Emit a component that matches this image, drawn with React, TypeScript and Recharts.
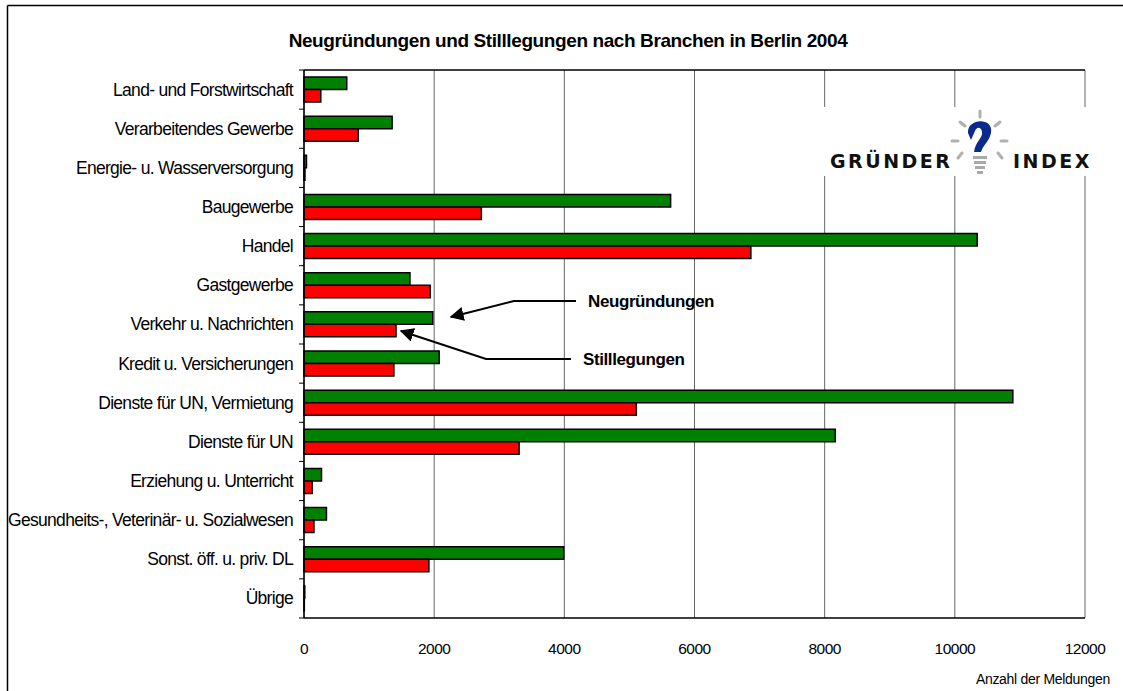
import React from "react";
import {
  BarChart,
  Bar,
  XAxis,
  YAxis,
  CartesianGrid,
} from "recharts";

const branchen = [
  "Land- und Forstwirtschaft",
  "Verarbeitendes Gewerbe",
  "Energie- u. Wasserversorgung",
  "Baugewerbe",
  "Handel",
  "Gastgewerbe",
  "Verkehr u. Nachrichten",
  "Kredit u. Versicherungen",
  "Dienste für UN, Vermietung",
  "Dienste für UN",
  "Erziehung u. Unterricht",
  "Gesundheits-, Veterinär- u. Sozialwesen",
  "Sonst. öff. u. priv. DL",
  "Übrige",
];

const neugruendungen = [
  657, 1354, 38, 5633, 10344, 1628, 1979, 2077, 10891, 8163, 269, 345, 3990, 12,
];

const stilllegungen = [
  258, 833, 15, 2725, 6866, 1940, 1414, 1381, 5106, 3305, 126, 153, 1919, 5,
];

const xTicks = [0, 2000, 4000, 6000, 8000, 10000, 12000];

const data = branchen.map((name, i) => ({
  name,
  neu: neugruendungen[i],
  still: stilllegungen[i],
}));

const FONT = "'Liberation Sans', Arial, sans-serif";
const PLOT_TOP = 70;
const PLOT_BOTTOM = 618;
const BAND = (PLOT_BOTTOM - PLOT_TOP) / branchen.length;

const CategoryTick = (props: any) => {
  const { x, y, payload, index } = props;
  return (
    <g>
      <text
        x={x - 11}
        y={y}
        textAnchor="end"
        dominantBaseline="central"
        fontSize={17.5}
        fontFamily={FONT}
        fill="#000"
        letterSpacing={-0.7}
      >
        {payload.value}
      </text>
      <line x1={x - 5} x2={x} y1={y - BAND / 2} y2={y - BAND / 2} stroke="#000" />
      {index === branchen.length - 1 && (
        <line x1={x - 5} x2={x} y1={y + BAND / 2} y2={y + BAND / 2} stroke="#000" />
      )}
    </g>
  );
};

const Logo = () => (
  <g>
    <rect x={824} y={107} width={272} height={69} fill="#fff" />
    <text
      x={830}
      y={168}
      fontSize={19}
      fontWeight="bold"
      fontFamily="'DejaVu Sans', sans-serif"
      letterSpacing={2.5}
      fill="#111"
    >
      GRÜNDER
    </text>
    <text
      x={1013}
      y={168}
      fontSize={19}
      fontWeight="bold"
      fontFamily="'DejaVu Sans', sans-serif"
      letterSpacing={2.5}
      fill="#111"
    >
      INDEX
    </text>
    {/* rays */}
    <g stroke="#b0b0b0" strokeWidth={3} strokeLinecap="round">
      <line x1={980} y1={111} x2={980} y2={117} />
      <line x1={960} y1={122} x2={965} y2={126} />
      <line x1={1000} y1={122} x2={995} y2={126} />
      <line x1={952} y1={141} x2={958} y2={141} />
      <line x1={1007} y1={141} x2={1001} y2={141} />
      <line x1={958} y1={158} x2={962} y2={153} />
      <line x1={1002} y1={158} x2={998} y2={153} />
    </g>
    {/* question mark */}
    <path
      d="M968 133 C967 118 994 117 991 133 C989 142 983 145 981 152 L974 152 C975 142 983 138 982 132 C981 126 976 127 975 131 L971 140 Z"
      fill="#0a2a8c"
    />
    {/* base */}
    <g fill="#aaa">
      <rect x={973} y={156} width={14} height={3} />
      <rect x={974} y={161} width={12} height={3} />
      <rect x={975} y={166} width={10} height={3} />
      <rect x={977} y={171} width={6} height={3} />
    </g>
  </g>
);

const Overlay = () => (
  <svg
    width={1123}
    height={691}
    style={{ position: "absolute", left: 0, top: 0, pointerEvents: "none" }}
  >
    <defs>
      <marker
        id="arrow"
        viewBox="0 0 10 10"
        refX={9}
        refY={5}
        markerWidth={7}
        markerHeight={7}
        orient="auto"
      >
        <path d="M0 0 L10 5 L0 10 z" fill="#000" />
      </marker>
    </defs>
    <line x1={7.5} y1={5.5} x2={1123} y2={5.5} stroke="#000" strokeWidth={1.5} />
    <line x1={7.5} y1={5.5} x2={7.5} y2={691} stroke="#000" strokeWidth={1.5} />
    <text
      x={568}
      y={47}
      textAnchor="middle"
      fontSize={19}
      fontWeight="bold"
      fontFamily={FONT}
      letterSpacing={-0.4}
      fill="#000"
    >
      Neugründungen und Stilllegungen nach Branchen in Berlin 2004
    </text>
    <Logo />
    <polyline
      points="576,301 514,301 451,317"
      fill="none"
      stroke="#000"
      strokeWidth={2}
      markerEnd="url(#arrow)"
    />
    <polyline
      points="571,359 486,359 401,331"
      fill="none"
      stroke="#000"
      strokeWidth={2}
      markerEnd="url(#arrow)"
    />
    <text x={588} y={307} fontSize={17} fontWeight="bold" fontFamily={FONT} letterSpacing={-0.4} fill="#000">
      Neugründungen
    </text>
    <text x={583} y={365} fontSize={17} fontWeight="bold" fontFamily={FONT} letterSpacing={-0.4} fill="#000">
      Stilllegungen
    </text>
    <text
      x={1110}
      y={684}
      textAnchor="end"
      fontSize={14}
      fontFamily={FONT}
      letterSpacing={-0.3}
      fill="#000"
    >
      Anzahl der Meldungen
    </text>
  </svg>
);

export default function App() {
  return (
    <div
      style={{
        position: "absolute",
        left: 0,
        top: 0,
        width: 1123,
        height: 691,
        background: "#fff",
      }}
    >
      <BarChart
        width={1123}
        height={691}
        data={data}
        layout="vertical"
        margin={{ top: 62, right: 38, bottom: 43, left: 4 }}
        barGap={0}
        barSize={12.5}
      >
        <CartesianGrid horizontal={false} stroke="#666" strokeWidth={1} />
        <XAxis
          xAxisId="top"
          orientation="top"
          type="number"
          domain={[0, 12000]}
          ticks={xTicks}
          height={8}
          tickSize={6}
          tick={() => <g />}
          axisLine={{ stroke: "#000", strokeWidth: 1.5 }}
          tickLine={{ stroke: "#666" }}
        />
        <XAxis
          type="number"
          domain={[0, 12000]}
          ticks={xTicks}
          height={30}
          tickLine={false}
          tickMargin={19}
          axisLine={{ stroke: "#000", strokeWidth: 1.5 }}
          tick={{ fill: "#000", fontSize: 15.5, fontFamily: FONT, letterSpacing: -0.5 }}
        />
        <YAxis
          type="category"
          dataKey="name"
          width={300}
          interval={0}
          tickLine={false}
          tickSize={0}
          tickMargin={0}
          axisLine={{ stroke: "#000", strokeWidth: 1.5 }}
          tick={<CategoryTick />}
        />
        <Bar
          dataKey="neu"
          name="Neugründungen"
          fill="#008000"
          stroke="#000"
          strokeWidth={1.5}
          isAnimationActive={false}
        />
        <Bar
          dataKey="still"
          name="Stilllegungen"
          fill="#ff0000"
          stroke="#000"
          strokeWidth={1.5}
          isAnimationActive={false}
        />
      </BarChart>
      <Overlay />
    </div>
  );
}
